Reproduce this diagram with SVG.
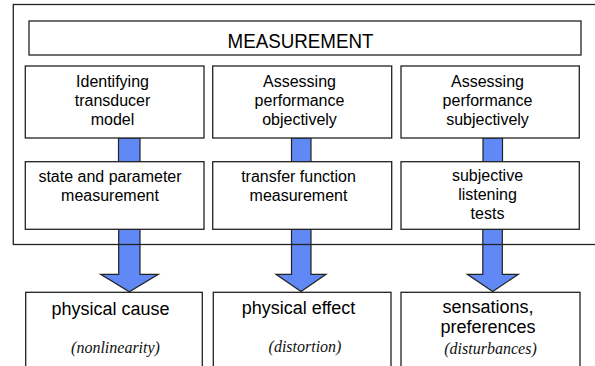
<svg xmlns="http://www.w3.org/2000/svg" width="595" height="366" viewBox="0 0 595 366">
<style>
.box{fill:#fff;stroke:#222;stroke-width:1.3}
.frame{fill:none;stroke:#222;stroke-width:1.3}
.t{font-family:"Liberation Sans",Arial,sans-serif;font-size:16px;fill:#000;text-anchor:middle}
.b{font-family:"Liberation Sans",Arial,sans-serif;font-size:18px;fill:#000;text-anchor:middle}
.i{font-family:"Liberation Serif","Times New Roman",serif;font-style:italic;font-size:16px;fill:#111;text-anchor:middle}
.flow{fill:#6089F5;stroke:#222;stroke-width:1.2;stroke-linejoin:miter}
</style>
<rect width="595" height="366" fill="#fff"/>
<g id="connectors">
<rect class="flow" x="118.5" y="138" width="21.5" height="24"/>
<rect class="flow" x="291.5" y="138" width="19.5" height="24"/>
<rect class="flow" x="483" y="138" width="19.5" height="24"/>
<polygon class="flow" points="118.7,229 140,229 140,274.3 158.3,274.3 129.3,291.7 100.7,274.3 118.7,274.3"/>
<polygon class="flow" points="291.5,229 311,229 311,274.3 326,274.3 301,291.5 276,274.3 291.5,274.3"/>
<polygon class="flow" points="482.8,229 502.3,229 502.3,274.3 518.3,274.3 492.7,291.5 467.3,274.3 482.8,274.3"/>
</g>
<g id="frame">
<rect class="frame" x="13.3" y="4.5" width="600" height="240"/>
</g>
<g id="measurement">
<rect class="box" x="29" y="21" width="552" height="34"/>
<text x="300.5" y="48" font-family="Liberation Sans,Arial,sans-serif" font-size="20.5" text-anchor="middle" textLength="146" lengthAdjust="spacingAndGlyphs">MEASUREMENT</text>
</g>
<g id="identifying">
<rect class="box" x="25.3" y="66" width="178.7" height="72"/>
<text class="t" x="112.5" y="87">Identifying</text>
<text class="t" x="112.5" y="106">transducer</text>
<text class="t" x="112.5" y="125">model</text>
</g>
<g id="assess-obj">
<rect class="box" x="212.7" y="66" width="179" height="72"/>
<text class="t" x="299.5" y="87">Assessing</text>
<text class="t" x="299.5" y="106">performance</text>
<text class="t" x="299.5" y="125">objectively</text>
</g>
<g id="assess-subj">
<rect class="box" x="401" y="66" width="178.3" height="72"/>
<text class="t" x="487.5" y="87">Assessing</text>
<text class="t" x="487.5" y="106">performance</text>
<text class="t" x="487.5" y="125">subjectively</text>
</g>
<g id="state-param">
<rect class="box" x="25.3" y="161.7" width="178.7" height="67.6"/>
<text class="t" x="110" y="181.5">state and parameter</text>
<text class="t" x="110" y="200.5">measurement</text>
</g>
<g id="transfer">
<rect class="box" x="212.7" y="161.7" width="179" height="67.6"/>
<text class="t" x="298.5" y="181.5">transfer function</text>
<text class="t" x="298.5" y="200.5">measurement</text>
</g>
<g id="listening">
<rect class="box" x="401" y="161.7" width="178.3" height="67.6"/>
<text class="t" x="487.5" y="180.5">subjective</text>
<text class="t" x="487.5" y="199.5">listening</text>
<text class="t" x="487.5" y="218.5">tests</text>
</g>
<g id="cause">
<rect class="box" x="25.7" y="292.3" width="176.6" height="90"/>
<text class="b" x="110.5" y="315">physical cause</text>
<text class="i" x="115.5" y="352.5">(nonlinearity)</text>
</g>
<g id="effect">
<rect class="box" x="213.3" y="292.3" width="177.7" height="90"/>
<text class="b" x="298.5" y="314">physical effect</text>
<text class="i" x="305" y="352">(distortion)</text>
</g>
<g id="sensations">
<rect class="box" x="401" y="292.3" width="179" height="90"/>
<text class="b" x="488" y="313">sensations,</text>
<text class="b" x="488" y="333">preferences</text>
<text class="i" x="490.5" y="354">(disturbances)</text>
</g>
</svg>
